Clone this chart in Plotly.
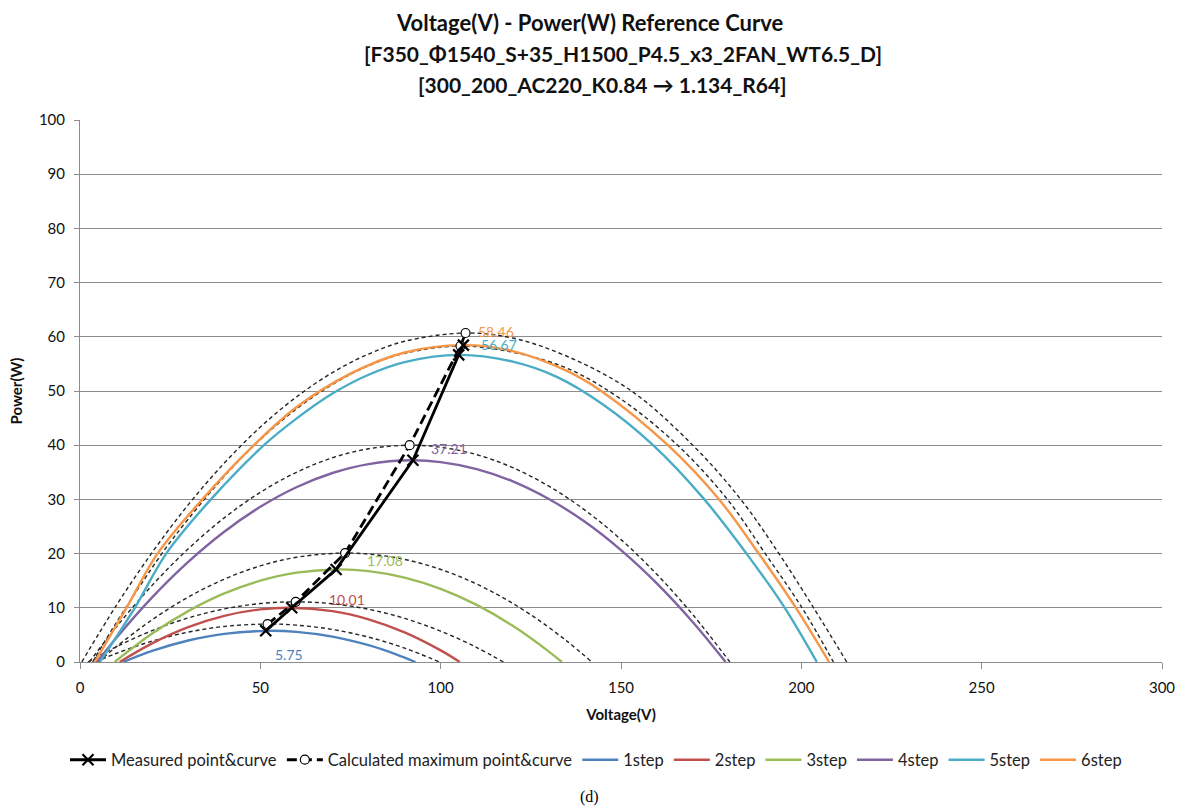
import plotly.graph_objects as go

# ---------------- data ----------------
step_names = ["1step", "2step", "3step", "4step", "5step", "6step"]
step_colors = ["#4F81BD", "#C0504D", "#9BBB59", "#8064A2", "#4BACC6", "#F79646"]

v_1step = [12, 20, 30, 40, 52.5, 60, 70, 80, 88, 93]
p_1step = [0, 2.05, 3.97, 5.20, 5.75, 5.55, 4.68, 3.10, 1.33, 0]

v_2step = [11, 20, 30, 40, 50, 58.2, 70, 80, 90, 100, 105.3]
p_2step = [0, 3.44, 6.43, 8.52, 9.71, 10.01, 9.38, 7.87, 5.46, 2.14, 0]

v_3step = [9.6, 20, 30, 40, 50, 60, 71.6, 80, 90, 100, 110, 120, 130, 133.6]
p_3step = [0, 5.25, 9.39, 12.65, 15.0, 16.48, 17.08, 16.77, 15.58, 13.5, 10.53, 6.67, 1.92, 0]

v_4step = [4.7, 10, 20, 30, 40, 50, 60, 70, 80, 91.85, 100, 110, 120, 130, 140, 150, 160, 170, 179]
p_4step = [0, 4.39, 11.92, 18.47, 24.04, 28.63, 32.24, 34.87, 36.52, 37.21, 36.88, 35.6, 33.33,
           30.08, 25.86, 20.64, 14.46, 7.29, 0]

v_5step = [5.5, 15.2, 23.9, 36.3, 51, 60, 70, 80, 90, 105.2, 120, 132.2, 145, 158.9, 173.1, 184.8, 195.4, 204.3]
p_5step = [0, 10, 20, 30, 40, 44.9, 49.53, 53.0, 55.34, 56.67, 55.41, 52.6, 47.5, 40, 30, 20, 10, 0]

v_6step = [4.1, 12.9, 21.5, 33.9, 48.2, 60, 75, 90, 106.1, 120, 135, 144.5, 163, 177.2, 188.2, 198.5, 207.7]
p_6step = [0, 10, 20, 30, 40, 47, 53.2, 57.1, 58.46, 57.37, 53.7, 50, 40, 30, 20, 10, 0]

# calculated maximum curves (thin dashed)
cv_1 = [4.3, 10, 20, 30, 40, 52, 60, 70, 80, 90, 99.7]
cp_1 = [0, 1.57, 3.85, 5.51, 6.56, 7.0, 6.8, 6.0, 4.59, 2.56, 0]

cv_2 = [2.2, 10, 20, 30, 40, 50, 59.8, 70, 80, 90, 100, 110, 117.4]
cp_2 = [0, 2.8, 5.8, 8.13, 9.79, 10.78, 11.1, 10.75, 9.73, 8.05, 5.69, 2.67, 0]

cv_3 = [5.1, 10, 20, 30, 40, 50, 60, 73.5, 85, 95, 105, 115, 125, 135, 141.9]
cp_3 = [0, 2.78, 7.8, 11.97, 15.28, 17.73, 19.32, 20.1, 19.53, 18.11, 15.84, 12.7, 8.71, 3.85, 0]

cv_4 = [2.6, 10, 20, 30, 40, 50, 60, 70, 80, 91.4, 100, 110, 120, 130, 140, 150, 160, 170, 180.2]
cp_4 = [0, 6.4, 14.14, 20.88, 26.6, 31.3, 35.0, 37.68, 39.34, 40.0, 39.62, 38.25, 35.85, 32.44,
        28.02, 22.58, 16.13, 8.66, 0]

cv_5 = [3.5, 10, 22.7, 30, 40, 50, 60, 70, 80, 90, 105.5, 120, 135, 150, 165.7, 179.5, 190, 200.2, 208.9]
cp_5 = [0, 7.19, 20, 26.36, 34.26, 41.04, 46.7, 51.2, 54.66, 56.95, 58.3, 57.15, 54.2, 48.5, 40, 30, 20, 10, 0]

cv_6 = [0.5, 10, 20, 30, 40, 50, 60, 70, 80, 90, 106.9, 120, 135, 152.9, 169.9, 183.2, 193.8, 203.4, 212.6]
cp_6 = [0, 10.36, 20.2, 29.0, 36.7, 43.34, 48.9, 53.4, 56.82, 59.17, 60.7, 59.77, 56.41, 50, 40, 30, 20, 10, 0]

# peaks (data labels)
peak_v = [52.5, 58.2, 71.6, 91.85, 105.2, 106.1]
peak_p = [5.75, 10.01, 17.08, 37.21, 56.67, 58.46]

# measured points & calculated maximum points
meas_v = [51.5, 58.7, 71.0, 92.3, 105.0, 106.3]
meas_p = [5.75, 10.01, 17.08, 37.21, 56.67, 58.46]
calc_v = [52.0, 59.8, 73.5, 91.4, 105.5, 106.9]
calc_p = [7.0, 11.1, 20.1, 40.0, 58.3, 60.7]

x_ticks = [0, 50, 100, 150, 200, 250, 300]
y_ticks = [0, 10, 20, 30, 40, 50, 60, 70, 80, 90, 100]

title_lines = [
    "Voltage(V) - Power(W) Reference Curve",
    "[F350_Φ1540_S+35_H1500_P4.5_x3_2FAN_WT6.5_D]",
    "[300_200_AC220_K0.84 → 1.134_R64]",
]

# ---------------- figure ----------------
FONT = "Lato"
W, H = 1187, 809
ML, MR, MT, MB = 80, 18, 120, 147
PW, PH = W - ML - MR, H - MT - MB


def px_to_paper_x(px):
    return (px - ML) / PW


def px_to_paper_y(py):
    return (H - MB - py) / PH


fig = go.Figure()

step_v = [v_1step, v_2step, v_3step, v_4step, v_5step, v_6step]
step_p = [p_1step, p_2step, p_3step, p_4step, p_5step, p_6step]
calc_curves_v = [cv_1, cv_2, cv_3, cv_4, cv_5, cv_6]
calc_curves_p = [cp_1, cp_2, cp_3, cp_4, cp_5, cp_6]

for i in range(6):
    fig.add_trace(go.Scatter(
        x=calc_curves_v[i], y=calc_curves_p[i], mode="lines",
        line=dict(color="#262626", width=1.4, dash="4px,3px", shape="spline"),
        showlegend=False, hoverinfo="skip"))

for i in range(6):
    fig.add_trace(go.Scatter(
        x=step_v[i], y=step_p[i], mode="lines", name=step_names[i],
        line=dict(color=step_colors[i], width=2.4, shape="spline"),
        legendrank=10 + i))

fig.add_trace(go.Scatter(
    x=calc_v, y=calc_p, mode="lines+markers", name="Calculated maximum point&curve",
    line=dict(color="black", width=2.8, dash="10px,5px"),
    marker=dict(symbol="circle", size=9, color="white", line=dict(color="black", width=1.2)),
    legendrank=2))

fig.add_trace(go.Scatter(
    x=meas_v, y=meas_p, mode="lines+markers", name="Measured point&curve",
    line=dict(color="black", width=2.8),
    marker=dict(symbol="x-thin-open", size=11, color="black", line=dict(color="black", width=2.2)),
    legendrank=1))

label_shift = [(20, -24), (57, 8), (47, 9), (38, 12), (40, 10), (33, 14)]
for i in range(6):
    fig.add_annotation(
        x=peak_v[i], y=peak_p[i], text=f"{peak_p[i]:.2f}", showarrow=False,
        xanchor="center", yanchor="middle", xshift=label_shift[i][0], yshift=label_shift[i][1],
        font=dict(family=FONT, size=14, color=step_colors[i]))

# title lines
title_centers = [(593, 22), (627, 53), (606, 84)]
title_sizes = [22, 21, 21]
for txt, (cx, cy), fs in zip(title_lines, title_centers, title_sizes):
    fig.add_annotation(
        x=px_to_paper_x(cx), xref="paper", y=px_to_paper_y(cy), yref="paper",
        text=f"<b>{txt}</b>", showarrow=False, xanchor="center", yanchor="middle",
        font=dict(family=FONT, size=fs, color="#111111"))

fig.add_annotation(
    x=px_to_paper_x(593), xref="paper", y=px_to_paper_y(797), yref="paper", text="(d)",
    showarrow=False, xanchor="center", yanchor="middle",
    font=dict(family="Liberation Serif", size=16, color="black"))

fig.update_layout(
    width=W, height=H,
    margin=dict(l=ML, r=MR, t=MT, b=MB),
    paper_bgcolor="white", plot_bgcolor="white",
    font=dict(family=FONT, size=14, color="#222222"),
    xaxis=dict(
        range=[0, 300], tickvals=x_ticks, showgrid=False, zeroline=False,
        showline=True, linecolor="#8c8c8c", linewidth=1,
        ticks="outside", ticklen=6, tickcolor="#8c8c8c", ticklabelstandoff=6,
        ticklabeloverflow="allow",
        tickfont=dict(family=FONT, size=15, color="#111111"),
        title=dict(text="<b>Voltage(V)</b>", font=dict(family=FONT, size=15, color="#111111"), standoff=14)),
    yaxis=dict(
        range=[0, 100], tickvals=y_ticks, showgrid=True, gridcolor="#8c8c8c", gridwidth=1,
        zeroline=False, showline=True, linecolor="#8c8c8c", linewidth=1,
        ticks="outside", ticklen=5, tickcolor="#8c8c8c", ticklabelstandoff=6,
        tickfont=dict(family=FONT, size=15, color="#111111"),
        title=dict(text="<b>Power(W)</b>", font=dict(family=FONT, size=15, color="#111111"), standoff=12)),
    legend=dict(
        orientation="h", x=596 / W, xref="container", xanchor="center",
        y=1 - 760 / H, yref="container", yanchor="middle",
        font=dict(family=FONT, size=16.5, color="#222222"),
        itemwidth=36, tracegroupgap=0, bgcolor="rgba(0,0,0,0)"),
    showlegend=True,
)

fig.write_html("out.html")
